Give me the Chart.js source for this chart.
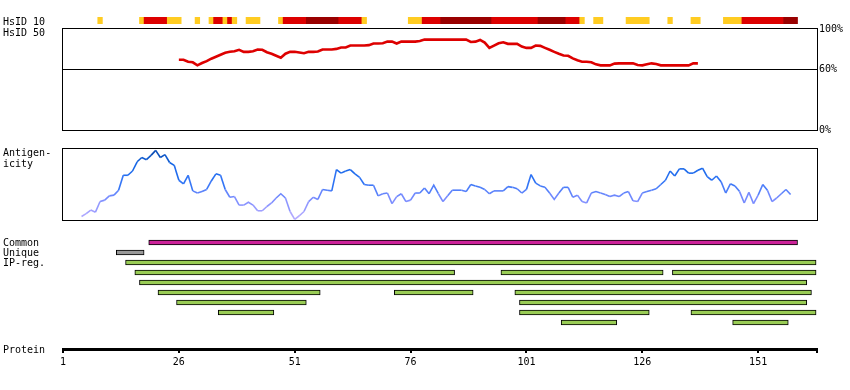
<!DOCTYPE html>
<html>
<head>
<meta charset="utf-8">
<script src="https://cdn.jsdelivr.net/npm/chart.js@4.4.1/dist/chart.umd.min.js"></script>
<style>
  html, body { margin: 0; padding: 0; background: #fff; }
  #wrap { position: relative; width: 850px; height: 390px; overflow: hidden; }
  #wrap canvas { position: absolute; left: 0; top: 0; }
  .lbl { position: absolute; left: 3px; font: 10px "DejaVu Sans Mono", monospace; line-height: 11px; color: #000; white-space: pre; }
</style>
</head>
<body>
<div id="wrap">
  <canvas id="hsid10" width="850" height="390"></canvas>
  <canvas id="hsid50" width="850" height="390"></canvas>
  <canvas id="antigen" width="850" height="390"></canvas>
  <canvas id="tracks" width="850" height="390"></canvas>
  <canvas id="protein" width="850" height="390"></canvas>
  <div class="lbl" style="top:16px">HsID 10</div>
  <div class="lbl" style="top:27px">HsID 50</div>
  <div class="lbl" style="top:147px">Antigen-<br>icity</div>
  <div class="lbl" style="top:237px">Common</div>
  <div class="lbl" style="top:247px">Unique</div>
  <div class="lbl" style="top:257px">IP-reg.</div>
  <div class="lbl" style="top:344px">Protein</div>
</div>
<script>
// protein axis
const axisMin = 1;
const axisMax = 163.7;
const proteinTicks = [1, 26, 51, 76, 101, 126, 151];

// HsID 10 blocks: [first residue, last residue, level] (1 = yellow, 2 = red, 3 = dark red)
const hsid10Blocks = [
  [9, 9, 1],
  [18, 18, 1], [19, 23, 2], [24, 26, 1],
  [30, 30, 1],
  [33, 33, 1], [34, 35, 2], [36, 36, 1], [37, 37, 2], [38, 38, 1],
  [41, 43, 1],
  [48, 48, 1], [49, 53, 2], [54, 60, 3], [61, 65, 2], [66, 66, 1],
  [76, 78, 1], [79, 82, 2], [83, 93, 3], [94, 103, 2], [104, 109, 3], [110, 112, 2], [113, 113, 1],
  [116, 117, 1],
  [123, 127, 1],
  [132, 132, 1],
  [137, 138, 1],
  [144, 147, 1], [148, 156, 2], [157, 159, 3]
];
const hsid10Colors = { 1: "#ffcc22", 2: "#dd0000", 3: "#990000" };

// HsID 50 identity (%), residues 26..138
const hsid50Start = 26;
const hsid50Values = [
  69.6, 69.6, 67.6, 67, 64, 66.3, 68.2, 70.6, 72.5, 74.5,
  76.4, 77.4, 78, 79.4, 77.4, 77.4, 78, 79.7, 79.4, 77,
  75.5, 73.5, 71.6, 75.5, 77.4, 77.4, 76.8, 76, 77.4, 77.4,
  77.7, 79.7, 79.7, 79.7, 80.3, 81.7, 81.7, 83.6, 83.6, 83.6,
  83.6, 84, 85.6, 85.6, 85.9, 87.5, 87.5, 85.6, 87.5, 87.5,
  87.5, 87.5, 88.2, 89.5, 89.5, 89.5, 89.5, 89.5, 89.5, 89.5,
  89.5, 89.5, 89.5, 87.2, 87.5, 89.2, 86.5, 81.3, 83.6, 85.9,
  86.9, 85.3, 85.3, 85.3, 82.6, 81.3, 81.3, 83.6, 83.3, 81.3,
  79.4, 77.4, 75.5, 73.8, 73.5, 70.9, 69, 67.6, 67.6, 67,
  65, 64, 64, 64, 65.7, 66, 66, 66, 66, 64.3,
  64, 65, 66, 65.3, 64, 64, 64, 64, 64, 64,
  64, 66, 66
];
const hsid50Ticks = [0, 60, 100];

// antigenicity (relative height), residues 5..158
const antigenStart = 5;
const antigenValues = [
  5, 9, 14, 11, 26, 28, 34, 35, 42, 63,
  63, 69, 82, 88, 85, 91, 98, 88, 92, 81,
  77, 56, 51, 63, 41, 38, 40, 43, 55, 65,
  63, 43, 32, 33, 21, 21, 25, 21, 13, 13,
  19, 24, 31, 37, 31, 12, 1, 6, 12, 26,
  32, 29, 43, 42, 41, 71, 66, 69, 71, 65,
  60, 50, 49, 49, 34, 37, 38, 23, 33, 37,
  26, 28, 38, 38, 45, 37, 49, 37, 26, 34,
  42, 42, 42, 40, 50, 48, 46, 43, 37, 41,
  41, 41, 47, 46, 44, 38, 43, 64, 52, 48,
  46, 38, 29, 38, 46, 46, 32, 35, 26, 24,
  38, 40, 38, 36, 33, 35, 33, 38, 40, 27,
  26, 38, 40, 42, 44, 50, 56, 69, 62, 72,
  72, 66, 66, 70, 73, 61, 56, 62, 54, 38,
  51, 48, 40, 24, 39, 23, 35, 50, 42, 26,
  31, 37, 43, 36
];

// feature tracks: [first residue, last residue, row]
const commonRegions = [[20, 159, 0]];
const uniqueRegions = [[13, 18, 1]];
const ipRegions = [
  [15, 163, 2],
  [17, 85, 3], [96, 130, 3], [133, 163, 3],
  [18, 161, 4],
  [22, 56, 5], [73, 89, 5], [99, 162, 5],
  [26, 53, 6], [100, 161, 6],
  [35, 46, 7], [100, 127, 7], [137, 163, 7],
  [109, 120, 8], [146, 157, 8]
];

const FONT = { family: "'DejaVu Sans Mono', monospace", size: 10 };

const framePlugin = {
  id: "frame",
  afterDatasetsDraw(chart) {
    const { ctx, chartArea: a } = chart;
    ctx.save();
    ctx.strokeStyle = "#000";
    ctx.lineWidth = 1;
    ctx.strokeRect(a.left - 0.5, a.top - 0.5, a.right - a.left + 1, a.bottom - a.top + 1);
    ctx.restore();
  }
};

const base = {
  responsive: false,
  animation: false,
  events: [],
  plugins: { legend: { display: false }, tooltip: { enabled: false } }
};

function hiddenX() {
  return { type: "linear", display: false, min: axisMin, max: axisMax, offset: false };
}

function toBars(list) {
  return list.map(([s, e, row]) => ({ x: [s - 0.5, e + 0.5], y: row }));
}

// HsID 10 strip
new Chart(document.getElementById("hsid10"), {
  type: "bar",
  data: {
    datasets: [{
      data: hsid10Blocks.map(([s, e]) => ({ x: [s - 0.5, e + 0.5], y: 0 })),
      backgroundColor: hsid10Blocks.map((b) => hsid10Colors[b[2]]),
      borderWidth: 0,
      barThickness: 7,
      grouped: false
    }]
  },
  options: {
    ...base,
    indexAxis: "y",
    layout: { padding: { left: 63, right: 33, top: 17, bottom: 366 } },
    scales: {
      x: hiddenX(),
      y: { type: "linear", display: false, min: -0.5, max: 0.5, offset: false }
    }
  }
});

// HsID 50 line
new Chart(document.getElementById("hsid50"), {
  type: "line",
  data: {
    datasets: [{
      data: hsid50Values.map((v, i) => ({ x: hsid50Start + i, y: v })),
      borderColor: "#dd0000",
      borderWidth: 2.6,
      pointRadius: 0,
      tension: 0
    }]
  },
  options: {
    ...base,
    layout: { padding: { left: 63, right: 0, top: 29, bottom: 260 } },
    scales: {
      x: hiddenX(),
      y: {
        position: "right",
        min: 0,
        max: 100,
        afterFit: (s) => { s.width = 33; },
        afterBuildTicks: (s) => { s.ticks = hsid50Ticks.map((v) => ({ value: v })); },
        border: { display: false },
        grid: {
          drawTicks: false,
          color: (c) => (c.tick && c.tick.value === 60 ? "#000" : "rgba(0,0,0,0)"),
          lineWidth: 1
        },
        ticks: {
          padding: 2,
          color: "#000",
          font: FONT,
          callback: (v) => v + "%"
        }
      }
    }
  },
  plugins: [framePlugin]
});

// antigenicity line, coloured by height
const antiStops = [
  [0, [190, 176, 255]],
  [30, [122, 140, 255]],
  [55, [45, 115, 245]],
  [80, [18, 100, 228]],
  [100, [10, 70, 165]]
];
function antiColor(v) {
  for (let i = 1; i < antiStops.length; i++) {
    const [v1, c1] = antiStops[i];
    const [v0, c0] = antiStops[i - 1];
    if (v <= v1) {
      const t = (v - v0) / (v1 - v0);
      const c = c0.map((x, k) => Math.round(x + (c1[k] - x) * t));
      return `rgb(${c[0]},${c[1]},${c[2]})`;
    }
  }
  return "rgb(10,70,165)";
}

new Chart(document.getElementById("antigen"), {
  type: "line",
  data: {
    datasets: [{
      data: antigenValues.map((v, i) => ({ x: antigenStart + i, y: v })),
      borderColor: "#4a7cff",
      borderWidth: 1.6,
      pointRadius: 0,
      tension: 0,
      segment: {
        borderColor: (c) => antiColor((c.p0.parsed.y + c.p1.parsed.y) / 2)
      }
    }]
  },
  options: {
    ...base,
    layout: { padding: { left: 63, right: 33, top: 149, bottom: 170 } },
    scales: {
      x: hiddenX(),
      y: { type: "linear", display: false, min: 0, max: 100 }
    }
  },
  plugins: [framePlugin]
});

// Common / Unique / IP-reg. tracks
const trackStyle = { borderColor: "#000", borderWidth: 1, borderSkipped: false, barThickness: 5, grouped: false };
new Chart(document.getElementById("tracks"), {
  type: "bar",
  data: {
    datasets: [
      { data: toBars(commonRegions), backgroundColor: "#cc2299", ...trackStyle },
      { data: toBars(uniqueRegions), backgroundColor: "#999999", ...trackStyle },
      { data: toBars(ipRegions), backgroundColor: "#99cc55", ...trackStyle }
    ]
  },
  options: {
    ...base,
    indexAxis: "y",
    layout: { padding: { left: 63, right: 33, top: 237.5, bottom: 62.5 } },
    scales: {
      x: hiddenX(),
      y: { type: "linear", display: false, min: -0.5, max: 8.5, reverse: true, offset: false }
    }
  }
});

// protein position axis
new Chart(document.getElementById("protein"), {
  type: "line",
  data: { datasets: [] },
  options: {
    ...base,
    layout: { padding: { left: 63, right: 33, top: 0, bottom: 0 } },
    scales: {
      x: {
        type: "linear",
        min: axisMin,
        max: axisMax,
        afterFit: (s) => { s.height = 41; },
        afterBuildTicks: (s) => {
          s.ticks = proteinTicks.concat([axisMax]).map((v) => ({ value: v }));
        },
        border: { display: true, color: "#000", width: 3 },
        grid: { drawOnChartArea: false, drawTicks: true, tickLength: 4, color: "#000", lineWidth: 2 },
        ticks: {
          autoSkip: false,
          maxRotation: 0,
          padding: 3,
          color: "#000",
          font: FONT,
          callback: (v) => (v === axisMax ? "" : String(v))
        }
      },
      y: { display: false, min: 0, max: 1 }
    }
  }
});
</script>
</body>
</html>
